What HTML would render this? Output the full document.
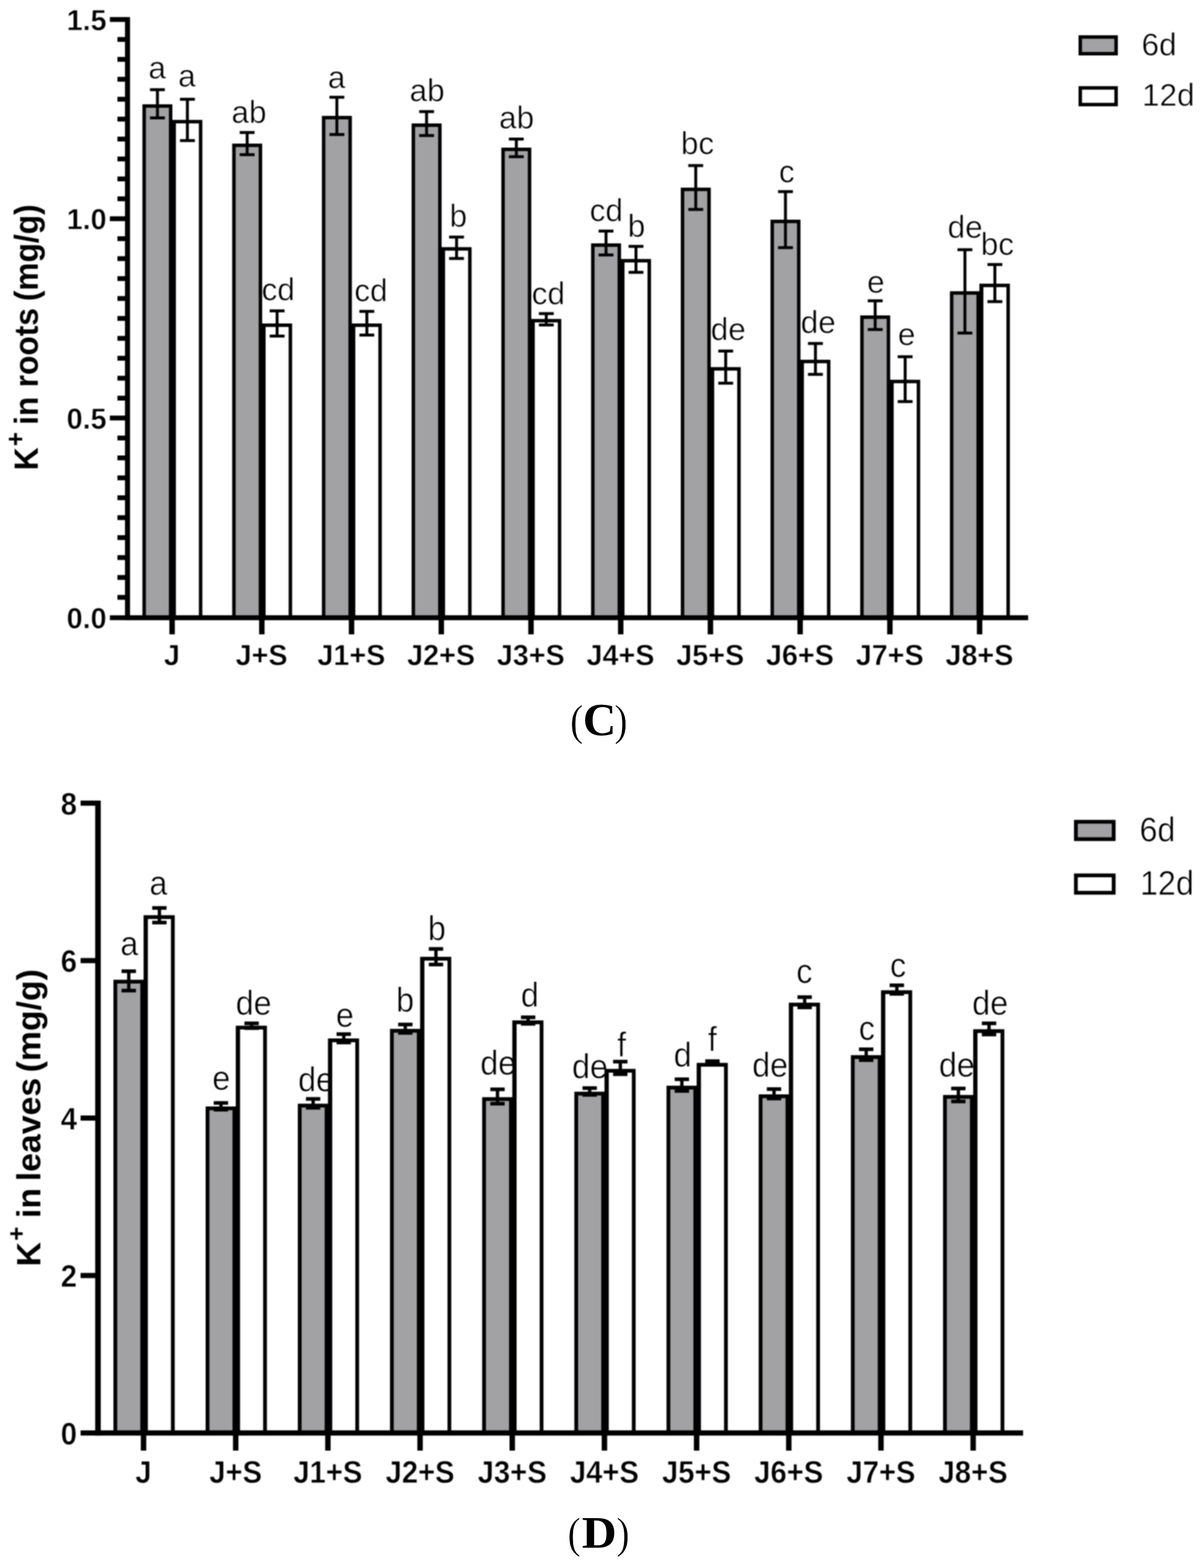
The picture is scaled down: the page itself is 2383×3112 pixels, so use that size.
<!DOCTYPE html>
<html lang="en"><head><meta charset="utf-8"><title>K+ content in roots and leaves</title>
<style>
html,body{margin:0;padding:0;background:#fff;}
body{width:2383px;height:3112px;overflow:hidden;}
svg{display:block;font-family:"Liberation Sans",sans-serif;fill:#000;}
text{stroke:#fff;stroke-width:0.9px;stroke-linejoin:round;}
text.b{stroke-width:0.8px;}
text.t{stroke:none;}
text.p{stroke-width:0.8px;}
</style></head><body>
<svg width="2383" height="3112" viewBox="0 0 2383 3112">
<defs><filter id="soft" filterUnits="userSpaceOnUse" x="0" y="0" width="2383" height="3112" color-interpolation-filters="sRGB"><feGaussianBlur stdDeviation="1.0"/></filter></defs>
<rect width="2383" height="3112" fill="#fff"/>
<g filter="url(#soft)">
<rect width="2383" height="3112" fill="#fff"/>
<g id="chartC">
<g class="cat">
<rect x="282.6" y="207" width="59.4" height="1019" fill="#000"/><rect x="289.5" y="213.9" width="45.6" height="1012.1" fill="#a2a2a5"/>
<rect x="309.5" y="178" width="5.8" height="56" fill="#000"/><rect x="297.6" y="175.1" width="29.5" height="5.8" fill="#000"/><rect x="297.6" y="231.1" width="29.5" height="5.8" fill="#000"/>
<rect x="341.1" y="238" width="60.4" height="988" fill="#000"/><rect x="349" y="244.9" width="45.6" height="981.1" fill="#fff"/>
<rect x="368.9" y="197" width="5.8" height="82" fill="#000"/><rect x="357.1" y="194.1" width="29.5" height="5.8" fill="#000"/><rect x="357.1" y="276.1" width="29.5" height="5.8" fill="#000"/>
<text x="312" y="156.2" font-size="62.5" text-anchor="middle">a</text>
<text x="371" y="172.2" font-size="62.5" text-anchor="middle">a</text>
</g>
<g class="cat">
<rect x="460.7" y="285" width="59.5" height="941" fill="#000"/><rect x="467.6" y="291.9" width="45.7" height="934.1" fill="#a2a2a5"/>
<rect x="487.5" y="263" width="5.8" height="44" fill="#000"/><rect x="475.6" y="260.1" width="29.5" height="5.8" fill="#000"/><rect x="475.6" y="304.1" width="29.5" height="5.8" fill="#000"/>
<rect x="519.1" y="642" width="60.5" height="584" fill="#000"/><rect x="527" y="648.9" width="45.7" height="577.1" fill="#fff"/>
<rect x="546.9" y="617" width="5.8" height="50" fill="#000"/><rect x="535.1" y="614.1" width="29.5" height="5.8" fill="#000"/><rect x="535.1" y="664.1" width="29.5" height="5.8" fill="#000"/>
<text x="494" y="244.2" font-size="62.5" text-anchor="middle">ab</text>
<text x="552" y="596.2" font-size="62.5" text-anchor="middle">cd</text>
</g>
<g class="cat">
<rect x="638.7" y="230" width="59.5" height="996" fill="#000"/><rect x="645.6" y="236.9" width="45.7" height="989.1" fill="#a2a2a5"/>
<rect x="665.5" y="193" width="5.8" height="74" fill="#000"/><rect x="653.7" y="190.1" width="29.5" height="5.8" fill="#000"/><rect x="653.7" y="264.1" width="29.5" height="5.8" fill="#000"/>
<rect x="697.1" y="642" width="60.5" height="584" fill="#000"/><rect x="705" y="648.9" width="45.7" height="577.1" fill="#fff"/>
<rect x="725" y="618" width="5.8" height="47" fill="#000"/><rect x="713.1" y="615.1" width="29.5" height="5.8" fill="#000"/><rect x="713.1" y="662.1" width="29.5" height="5.8" fill="#000"/>
<text x="668" y="175.2" font-size="62.5" text-anchor="middle">a</text>
<text x="736" y="598.2" font-size="62.5" text-anchor="middle">cd</text>
</g>
<g class="cat">
<rect x="816.7" y="245" width="59.5" height="981" fill="#000"/><rect x="823.6" y="251.9" width="45.7" height="974.1" fill="#a2a2a5"/>
<rect x="843.5" y="221.5" width="5.8" height="47.5" fill="#000"/><rect x="831.7" y="218.6" width="29.5" height="5.8" fill="#000"/><rect x="831.7" y="266.1" width="29.5" height="5.8" fill="#000"/>
<rect x="875.2" y="490.5" width="60.5" height="735.5" fill="#000"/><rect x="883.1" y="497.4" width="45.7" height="728.6" fill="#fff"/>
<rect x="903" y="470.5" width="5.8" height="42.5" fill="#000"/><rect x="891.1" y="467.6" width="29.5" height="5.8" fill="#000"/><rect x="891.1" y="510.1" width="29.5" height="5.8" fill="#000"/>
<text x="847.6" y="201.2" font-size="62.5" text-anchor="middle">ab</text>
<text x="909.5" y="449.8" font-size="62.5" text-anchor="middle">b</text>
</g>
<g class="cat">
<rect x="994.7" y="293" width="59.5" height="933" fill="#000"/><rect x="1001.6" y="299.9" width="45.7" height="926.1" fill="#a2a2a5"/>
<rect x="1021.6" y="276" width="5.8" height="35" fill="#000"/><rect x="1009.7" y="273.1" width="29.5" height="5.8" fill="#000"/><rect x="1009.7" y="308.1" width="29.5" height="5.8" fill="#000"/>
<rect x="1053.2" y="633" width="60.5" height="593" fill="#000"/><rect x="1061.1" y="639.9" width="45.7" height="586.1" fill="#fff"/>
<rect x="1081" y="622.4" width="5.8" height="22.6" fill="#000"/><rect x="1069.2" y="619.5" width="29.5" height="5.8" fill="#000"/><rect x="1069.2" y="642.1" width="29.5" height="5.8" fill="#000"/>
<text x="1025" y="255.2" font-size="62.5" text-anchor="middle">ab</text>
<text x="1088" y="603.6" font-size="62.5" text-anchor="middle">cd</text>
</g>
<g class="cat">
<rect x="1172.8" y="483" width="59.5" height="743" fill="#000"/><rect x="1179.7" y="489.9" width="45.7" height="736.1" fill="#a2a2a5"/>
<rect x="1199.6" y="458.6" width="5.8" height="47.4" fill="#000"/><rect x="1187.7" y="455.7" width="29.5" height="5.8" fill="#000"/><rect x="1187.7" y="503.1" width="29.5" height="5.8" fill="#000"/>
<rect x="1231.2" y="514" width="60.5" height="712" fill="#000"/><rect x="1239.1" y="520.9" width="45.7" height="705.1" fill="#fff"/>
<rect x="1259" y="489" width="5.8" height="51.5" fill="#000"/><rect x="1247.2" y="486.1" width="29.5" height="5.8" fill="#000"/><rect x="1247.2" y="537.6" width="29.5" height="5.8" fill="#000"/>
<text x="1203" y="439.2" font-size="62.5" text-anchor="middle">cd</text>
<text x="1263" y="470.2" font-size="62.5" text-anchor="middle">b</text>
</g>
<g class="cat">
<rect x="1350.8" y="372.4" width="59.5" height="853.6" fill="#000"/><rect x="1357.7" y="379.3" width="45.7" height="846.7" fill="#a2a2a5"/>
<rect x="1377.6" y="328.6" width="5.8" height="87.1" fill="#000"/><rect x="1365.7" y="325.7" width="29.5" height="5.8" fill="#000"/><rect x="1365.7" y="412.8" width="29.5" height="5.8" fill="#000"/>
<rect x="1409.2" y="728.6" width="60.5" height="497.4" fill="#000"/><rect x="1417.1" y="735.5" width="45.7" height="490.5" fill="#fff"/>
<rect x="1437" y="696.7" width="5.8" height="63.8" fill="#000"/><rect x="1425.2" y="693.8" width="29.5" height="5.8" fill="#000"/><rect x="1425.2" y="757.6" width="29.5" height="5.8" fill="#000"/>
<text x="1384" y="306.2" font-size="62.5" text-anchor="middle">bc</text>
<text x="1445" y="675.2" font-size="62.5" text-anchor="middle">de</text>
</g>
<g class="cat">
<rect x="1528.8" y="436" width="59.5" height="790" fill="#000"/><rect x="1535.7" y="442.9" width="45.7" height="783.1" fill="#a2a2a5"/>
<rect x="1555.6" y="380.3" width="5.8" height="111.2" fill="#000"/><rect x="1543.8" y="377.4" width="29.5" height="5.8" fill="#000"/><rect x="1543.8" y="488.6" width="29.5" height="5.8" fill="#000"/>
<rect x="1587.2" y="714" width="60.5" height="512" fill="#000"/><rect x="1595.1" y="720.9" width="45.7" height="505.1" fill="#fff"/>
<rect x="1615.1" y="681.7" width="5.8" height="61.3" fill="#000"/><rect x="1603.2" y="678.8" width="29.5" height="5.8" fill="#000"/><rect x="1603.2" y="740.1" width="29.5" height="5.8" fill="#000"/>
<text x="1561" y="362.2" font-size="62.5" text-anchor="middle">c</text>
<text x="1623.5" y="661.2" font-size="62.5" text-anchor="middle">de</text>
</g>
<g class="cat">
<rect x="1706.8" y="626" width="59.5" height="600" fill="#000"/><rect x="1713.7" y="632.9" width="45.7" height="593.1" fill="#a2a2a5"/>
<rect x="1733.6" y="597" width="5.8" height="57" fill="#000"/><rect x="1721.8" y="594.1" width="29.5" height="5.8" fill="#000"/><rect x="1721.8" y="651.1" width="29.5" height="5.8" fill="#000"/>
<rect x="1765.3" y="753.7" width="60.5" height="472.3" fill="#000"/><rect x="1773.2" y="760.6" width="45.7" height="465.4" fill="#fff"/>
<rect x="1793.1" y="708" width="5.8" height="89" fill="#000"/><rect x="1781.2" y="705.1" width="29.5" height="5.8" fill="#000"/><rect x="1781.2" y="794.1" width="29.5" height="5.8" fill="#000"/>
<text x="1738" y="580.5" font-size="62.5" text-anchor="middle">e</text>
<text x="1799" y="684.6" font-size="62.5" text-anchor="middle">e</text>
</g>
<g class="cat">
<rect x="1884.8" y="578" width="59.5" height="648" fill="#000"/><rect x="1891.7" y="584.9" width="45.7" height="641.1" fill="#a2a2a5"/>
<rect x="1911.7" y="495.6" width="5.8" height="165.4" fill="#000"/><rect x="1899.8" y="492.7" width="29.5" height="5.8" fill="#000"/><rect x="1899.8" y="658.1" width="29.5" height="5.8" fill="#000"/>
<rect x="1943.3" y="563" width="60.5" height="663" fill="#000"/><rect x="1951.2" y="569.9" width="45.7" height="656.1" fill="#fff"/>
<rect x="1971.1" y="525" width="5.8" height="73.6" fill="#000"/><rect x="1959.3" y="522.1" width="29.5" height="5.8" fill="#000"/><rect x="1959.3" y="595.7" width="29.5" height="5.8" fill="#000"/>
<text x="1915" y="472.2" font-size="62.5" text-anchor="middle">de</text>
<text x="1979" y="505.6" font-size="62.5" text-anchor="middle">bc</text>
</g>
<rect x="248" y="33.9" width="10" height="1197" fill="#000"/>
<rect x="248" y="1221.1" width="1792" height="9.8" fill="#000"/>
<rect x="218" y="33.9" width="31" height="9.6" fill="#000"/>
<text transform="translate(211.5,60) scale(1,1.02)" font-size="57" text-anchor="end" class="b" font-weight="bold">1.5</text>
<rect x="218" y="429.3" width="31" height="9.6" fill="#000"/>
<text transform="translate(211.5,455.4) scale(1,1.02)" font-size="57" text-anchor="end" class="b" font-weight="bold">1.0</text>
<rect x="218" y="824.8" width="31" height="9.6" fill="#000"/>
<text transform="translate(211.5,850.9) scale(1,1.02)" font-size="57" text-anchor="end" class="b" font-weight="bold">0.5</text>
<rect x="218" y="1221.2" width="31" height="9.6" fill="#000"/>
<text transform="translate(211.5,1247.3) scale(1,1.02)" font-size="57" text-anchor="end" class="b" font-weight="bold">0.0</text>
<rect x="233" y="73.5" width="16" height="9.6" fill="#000"/>
<rect x="233" y="113" width="16" height="9.6" fill="#000"/>
<rect x="233" y="152.5" width="16" height="9.6" fill="#000"/>
<rect x="233" y="192.1" width="16" height="9.6" fill="#000"/>
<rect x="233" y="231.6" width="16" height="9.6" fill="#000"/>
<rect x="233" y="271.2" width="16" height="9.6" fill="#000"/>
<rect x="233" y="310.7" width="16" height="9.6" fill="#000"/>
<rect x="233" y="350.3" width="16" height="9.6" fill="#000"/>
<rect x="233" y="389.8" width="16" height="9.6" fill="#000"/>
<rect x="233" y="468.9" width="16" height="9.6" fill="#000"/>
<rect x="233" y="508.5" width="16" height="9.6" fill="#000"/>
<rect x="233" y="548.1" width="16" height="9.6" fill="#000"/>
<rect x="233" y="587.6" width="16" height="9.6" fill="#000"/>
<rect x="233" y="627.2" width="16" height="9.6" fill="#000"/>
<rect x="233" y="666.7" width="16" height="9.6" fill="#000"/>
<rect x="233" y="706.2" width="16" height="9.6" fill="#000"/>
<rect x="233" y="745.8" width="16" height="9.6" fill="#000"/>
<rect x="233" y="785.4" width="16" height="9.6" fill="#000"/>
<rect x="233" y="864.5" width="16" height="9.6" fill="#000"/>
<rect x="233" y="904" width="16" height="9.6" fill="#000"/>
<rect x="233" y="943.6" width="16" height="9.6" fill="#000"/>
<rect x="233" y="983.1" width="16" height="9.6" fill="#000"/>
<rect x="233" y="1022.6" width="16" height="9.6" fill="#000"/>
<rect x="233" y="1062.2" width="16" height="9.6" fill="#000"/>
<rect x="233" y="1101.8" width="16" height="9.6" fill="#000"/>
<rect x="233" y="1141.3" width="16" height="9.6" fill="#000"/>
<rect x="233" y="1180.8" width="16" height="9.6" fill="#000"/>
<rect x="336.1" y="1226" width="10.8" height="33" fill="#000"/>
<text transform="translate(341.1,1320) scale(1,1.02)" font-size="57" text-anchor="middle" class="b" font-weight="bold">J</text>
<rect x="514.1" y="1226" width="10.8" height="33" fill="#000"/>
<text transform="translate(519.1,1320) scale(1,1.02)" font-size="57" text-anchor="middle" class="b" font-weight="bold">J+S</text>
<rect x="692.1" y="1226" width="10.8" height="33" fill="#000"/>
<text transform="translate(697.1,1320) scale(1,1.02)" font-size="57" text-anchor="middle" class="b" font-weight="bold">J1+S</text>
<rect x="870.2" y="1226" width="10.8" height="33" fill="#000"/>
<text transform="translate(875.2,1320) scale(1,1.02)" font-size="57" text-anchor="middle" class="b" font-weight="bold">J2+S</text>
<rect x="1048.2" y="1226" width="10.8" height="33" fill="#000"/>
<text transform="translate(1053.2,1320) scale(1,1.02)" font-size="57" text-anchor="middle" class="b" font-weight="bold">J3+S</text>
<rect x="1226.2" y="1226" width="10.8" height="33" fill="#000"/>
<text transform="translate(1231.2,1320) scale(1,1.02)" font-size="57" text-anchor="middle" class="b" font-weight="bold">J4+S</text>
<rect x="1404.2" y="1226" width="10.8" height="33" fill="#000"/>
<text transform="translate(1409.2,1320) scale(1,1.02)" font-size="57" text-anchor="middle" class="b" font-weight="bold">J5+S</text>
<rect x="1582.2" y="1226" width="10.8" height="33" fill="#000"/>
<text transform="translate(1587.2,1320) scale(1,1.02)" font-size="57" text-anchor="middle" class="b" font-weight="bold">J6+S</text>
<rect x="1760.3" y="1226" width="10.8" height="33" fill="#000"/>
<text transform="translate(1765.3,1320) scale(1,1.02)" font-size="57" text-anchor="middle" class="b" font-weight="bold">J7+S</text>
<rect x="1938.3" y="1226" width="10.8" height="33" fill="#000"/>
<text transform="translate(1943.3,1320) scale(1,1.02)" font-size="57" text-anchor="middle" class="b" font-weight="bold">J8+S</text>
<text transform="translate(74.7,669.4) rotate(-90) scale(1,1.066)" font-size="63" class="t" font-weight="bold" text-anchor="middle">K<tspan font-size="48" dy="-25.2" dx="2.5">+</tspan><tspan dy="25.2" dx="-3.5"> in</tspan><tspan dx="1"> roots</tspan><tspan dx="-4"> (mg/g)</tspan></text>
<rect x="2140" y="70" width="78" height="40" fill="#000"/><rect x="2146.9" y="76.9" width="64.2" height="26.2" fill="#a2a2a5"/>
<text x="2265" y="109.5" font-size="62.5">6d</text>
<rect x="2140" y="171" width="78" height="40" fill="#000"/><rect x="2146.9" y="177.9" width="64.2" height="26.2" fill="#fff"/>
<text x="2266" y="210" font-size="62.5">12d</text>
</g>
<g id="chartD">
<g class="cat">
<rect x="225.1" y="1944.5" width="60.8" height="899.5" fill="#000"/><rect x="232.6" y="1952" width="45.8" height="892" fill="#a2a2a5"/>
<rect x="252.2" y="1927.6" width="6.6" height="38.4" fill="#000"/><rect x="241.2" y="1924" width="28.5" height="7.2" fill="#000"/><rect x="241.2" y="1962.4" width="28.5" height="7.2" fill="#000"/>
<text transform="translate(256.5,1895.8) scale(1,1.06)" font-size="64" text-anchor="middle">a</text>
<rect x="284.9" y="1816.4" width="61.8" height="1027.6" fill="#000"/><rect x="293.4" y="1823.9" width="45.8" height="1020.1" fill="#fff"/>
<rect x="313" y="1802" width="6.6" height="29" fill="#000"/><rect x="302" y="1798.4" width="28.5" height="7.2" fill="#000"/><rect x="302" y="1827.4" width="28.5" height="7.2" fill="#000"/>
<text transform="translate(314.3,1775.8) scale(1,1.06)" font-size="64" text-anchor="middle">a</text>
</g>
<g class="cat">
<rect x="408" y="2196" width="60.8" height="648" fill="#000"/><rect x="415.5" y="2203.5" width="45.8" height="640.5" fill="#a2a2a5"/>
<rect x="435.1" y="2189" width="6.6" height="13.4" fill="#000"/><rect x="424.1" y="2185.4" width="28.5" height="7.2" fill="#000"/><rect x="424.1" y="2198.8" width="28.5" height="7.2" fill="#000"/>
<text transform="translate(439,2162.8) scale(1,1.06)" font-size="64" text-anchor="middle">e</text>
<rect x="467.8" y="2035.7" width="61.8" height="808.3" fill="#000"/><rect x="476.3" y="2043.2" width="45.8" height="800.8" fill="#fff"/>
<rect x="495.9" y="2031" width="6.6" height="9.5" fill="#000"/><rect x="485" y="2027.4" width="28.5" height="7.2" fill="#000"/><rect x="485" y="2036.9" width="28.5" height="7.2" fill="#000"/>
<text transform="translate(503.3,2013.8) scale(1,1.06)" font-size="64" text-anchor="middle">de</text>
</g>
<g class="cat">
<rect x="590.9" y="2190.5" width="60.8" height="653.5" fill="#000"/><rect x="598.4" y="2198" width="45.8" height="646" fill="#a2a2a5"/>
<rect x="618" y="2181" width="6.6" height="17.6" fill="#000"/><rect x="607" y="2177.4" width="28.5" height="7.2" fill="#000"/><rect x="607" y="2195" width="28.5" height="7.2" fill="#000"/>
<text transform="translate(627,2166.1) scale(1,1.06)" font-size="64" text-anchor="middle">de</text>
<rect x="650.7" y="2061" width="61.8" height="783" fill="#000"/><rect x="659.2" y="2068.5" width="45.8" height="775.5" fill="#fff"/>
<rect x="678.8" y="2052.4" width="6.6" height="16.6" fill="#000"/><rect x="667.8" y="2048.8" width="28.5" height="7.2" fill="#000"/><rect x="667.8" y="2065.4" width="28.5" height="7.2" fill="#000"/>
<text transform="translate(684.3,2037.5) scale(1,1.06)" font-size="64" text-anchor="middle">e</text>
</g>
<g class="cat">
<rect x="773.8" y="2042" width="60.8" height="802" fill="#000"/><rect x="781.3" y="2049.5" width="45.8" height="794.5" fill="#a2a2a5"/>
<rect x="800.9" y="2033.3" width="6.6" height="16.7" fill="#000"/><rect x="790" y="2029.7" width="28.5" height="7.2" fill="#000"/><rect x="790" y="2046.4" width="28.5" height="7.2" fill="#000"/>
<text transform="translate(803.8,2007.8) scale(1,1.06)" font-size="64" text-anchor="middle">b</text>
<rect x="833.6" y="1899" width="61.8" height="945" fill="#000"/><rect x="842.1" y="1906.5" width="45.8" height="937.5" fill="#fff"/>
<rect x="861.7" y="1883.3" width="6.6" height="31" fill="#000"/><rect x="850.8" y="1879.7" width="28.5" height="7.2" fill="#000"/><rect x="850.8" y="1910.7" width="28.5" height="7.2" fill="#000"/>
<text transform="translate(866.7,1866.1) scale(1,1.06)" font-size="64" text-anchor="middle">b</text>
</g>
<g class="cat">
<rect x="956.7" y="2177.6" width="60.8" height="666.4" fill="#000"/><rect x="964.2" y="2185.1" width="45.8" height="658.9" fill="#a2a2a5"/>
<rect x="983.8" y="2162" width="6.6" height="28.5" fill="#000"/><rect x="972.9" y="2158.4" width="28.5" height="7.2" fill="#000"/><rect x="972.9" y="2186.9" width="28.5" height="7.2" fill="#000"/>
<text transform="translate(988.5,2132.8) scale(1,1.06)" font-size="64" text-anchor="middle">de</text>
<rect x="1016.5" y="2025.2" width="61.8" height="818.8" fill="#000"/><rect x="1025" y="2032.7" width="45.8" height="811.3" fill="#fff"/>
<rect x="1044.6" y="2019" width="6.6" height="13" fill="#000"/><rect x="1033.7" y="2015.4" width="28.5" height="7.2" fill="#000"/><rect x="1033.7" y="2028.4" width="28.5" height="7.2" fill="#000"/>
<text transform="translate(1051.4,1997.8) scale(1,1.06)" font-size="64" text-anchor="middle">d</text>
</g>
<g class="cat">
<rect x="1139.6" y="2166.7" width="60.8" height="677.3" fill="#000"/><rect x="1147.1" y="2174.2" width="45.8" height="669.8" fill="#a2a2a5"/>
<rect x="1166.7" y="2159.5" width="6.6" height="13.5" fill="#000"/><rect x="1155.8" y="2155.9" width="28.5" height="7.2" fill="#000"/><rect x="1155.8" y="2169.4" width="28.5" height="7.2" fill="#000"/>
<text transform="translate(1170.5,2139.8) scale(1,1.06)" font-size="64" text-anchor="middle">de</text>
<rect x="1199.4" y="2121.4" width="61.8" height="722.6" fill="#000"/><rect x="1207.9" y="2128.9" width="45.8" height="715.1" fill="#fff"/>
<rect x="1227.5" y="2107" width="6.6" height="25" fill="#000"/><rect x="1216.5" y="2103.4" width="28.5" height="7.2" fill="#000"/><rect x="1216.5" y="2128.4" width="28.5" height="7.2" fill="#000"/>
<text transform="translate(1233.3,2097) scale(1,1.06)" font-size="64" text-anchor="middle">f</text>
</g>
<g class="cat">
<rect x="1322.5" y="2154.8" width="60.8" height="689.2" fill="#000"/><rect x="1330" y="2162.3" width="45.8" height="681.7" fill="#a2a2a5"/>
<rect x="1349.6" y="2142" width="6.6" height="23.2" fill="#000"/><rect x="1338.7" y="2138.4" width="28.5" height="7.2" fill="#000"/><rect x="1338.7" y="2161.6" width="28.5" height="7.2" fill="#000"/>
<text transform="translate(1354.5,2117.3) scale(1,1.06)" font-size="64" text-anchor="middle">d</text>
<rect x="1382.3" y="2109.5" width="61.8" height="734.5" fill="#000"/><rect x="1390.8" y="2117" width="45.8" height="727" fill="#fff"/>
<rect x="1410.4" y="2106" width="6.6" height="6" fill="#000"/><rect x="1399.4" y="2102.4" width="28.5" height="7.2" fill="#000"/><rect x="1399.4" y="2108.4" width="28.5" height="7.2" fill="#000"/>
<text transform="translate(1413.5,2086.3) scale(1,1.06)" font-size="64" text-anchor="middle">f</text>
</g>
<g class="cat">
<rect x="1505.4" y="2172" width="60.8" height="672" fill="#000"/><rect x="1512.9" y="2179.5" width="45.8" height="664.5" fill="#a2a2a5"/>
<rect x="1532.5" y="2161.5" width="6.6" height="18.7" fill="#000"/><rect x="1521.5" y="2157.9" width="28.5" height="7.2" fill="#000"/><rect x="1521.5" y="2176.6" width="28.5" height="7.2" fill="#000"/>
<text transform="translate(1528,2136.8) scale(1,1.06)" font-size="64" text-anchor="middle">de</text>
<rect x="1565.2" y="1990" width="61.8" height="854" fill="#000"/><rect x="1573.7" y="1997.5" width="45.8" height="846.5" fill="#fff"/>
<rect x="1593.3" y="1979" width="6.6" height="20.4" fill="#000"/><rect x="1582.3" y="1975.4" width="28.5" height="7.2" fill="#000"/><rect x="1582.3" y="1995.8" width="28.5" height="7.2" fill="#000"/>
<text transform="translate(1596,1950.8) scale(1,1.06)" font-size="64" text-anchor="middle">c</text>
</g>
<g class="cat">
<rect x="1688.3" y="2094.2" width="60.8" height="749.8" fill="#000"/><rect x="1695.8" y="2101.7" width="45.8" height="742.3" fill="#a2a2a5"/>
<rect x="1715.4" y="2082.5" width="6.6" height="21.5" fill="#000"/><rect x="1704.4" y="2078.9" width="28.5" height="7.2" fill="#000"/><rect x="1704.4" y="2100.4" width="28.5" height="7.2" fill="#000"/>
<text transform="translate(1720,2063.8) scale(1,1.06)" font-size="64" text-anchor="middle">c</text>
<rect x="1748.1" y="1965.4" width="61.8" height="878.6" fill="#000"/><rect x="1756.6" y="1972.9" width="45.8" height="871.1" fill="#fff"/>
<rect x="1776.2" y="1955.5" width="6.6" height="17" fill="#000"/><rect x="1765.2" y="1951.9" width="28.5" height="7.2" fill="#000"/><rect x="1765.2" y="1968.9" width="28.5" height="7.2" fill="#000"/>
<text transform="translate(1782,1939.2) scale(1,1.06)" font-size="64" text-anchor="middle">c</text>
</g>
<g class="cat">
<rect x="1871.2" y="2173.2" width="60.8" height="670.8" fill="#000"/><rect x="1878.7" y="2180.7" width="45.8" height="663.3" fill="#a2a2a5"/>
<rect x="1898.3" y="2160.3" width="6.6" height="25.7" fill="#000"/><rect x="1887.3" y="2156.7" width="28.5" height="7.2" fill="#000"/><rect x="1887.3" y="2182.4" width="28.5" height="7.2" fill="#000"/>
<text transform="translate(1898.5,2136.8) scale(1,1.06)" font-size="64" text-anchor="middle">de</text>
<rect x="1931" y="2042.7" width="61.8" height="801.3" fill="#000"/><rect x="1939.5" y="2050.2" width="45.8" height="793.8" fill="#fff"/>
<rect x="1959.1" y="2031" width="6.6" height="22.2" fill="#000"/><rect x="1948.2" y="2027.4" width="28.5" height="7.2" fill="#000"/><rect x="1948.2" y="2049.6" width="28.5" height="7.2" fill="#000"/>
<text transform="translate(1964.7,2014.1) scale(1,1.06)" font-size="64" text-anchor="middle">de</text>
</g>
<rect x="188.9" y="1588.9" width="11" height="1260.3" fill="#000"/>
<rect x="188.9" y="2838.8" width="1841.1" height="10.4" fill="#000"/>
<rect x="159.9" y="1588.9" width="30" height="10.2" fill="#000"/>
<text transform="translate(152.7,1616.5) scale(1,1.09)" font-size="58" text-anchor="end" class="b" font-weight="bold">8</text>
<rect x="159.9" y="1901.4" width="30" height="10.2" fill="#000"/>
<text transform="translate(152.7,1929) scale(1,1.09)" font-size="58" text-anchor="end" class="b" font-weight="bold">6</text>
<rect x="159.9" y="2213.9" width="30" height="10.2" fill="#000"/>
<text transform="translate(152.7,2241.5) scale(1,1.09)" font-size="58" text-anchor="end" class="b" font-weight="bold">4</text>
<rect x="159.9" y="2526.4" width="30" height="10.2" fill="#000"/>
<text transform="translate(152.7,2554) scale(1,1.09)" font-size="58" text-anchor="end" class="b" font-weight="bold">2</text>
<rect x="159.9" y="2838.9" width="30" height="10.2" fill="#000"/>
<text transform="translate(152.7,2866.5) scale(1,1.09)" font-size="58" text-anchor="end" class="b" font-weight="bold">0</text>
<rect x="279.4" y="2844" width="10.8" height="35" fill="#000"/>
<text transform="translate(284.7,2943) scale(1,1.09)" font-size="58" text-anchor="middle" class="b" font-weight="bold">J</text>
<rect x="462.3" y="2844" width="10.8" height="35" fill="#000"/>
<text transform="translate(467.6,2943) scale(1,1.09)" font-size="58" text-anchor="middle" class="b" font-weight="bold">J+S</text>
<rect x="645.2" y="2844" width="10.8" height="35" fill="#000"/>
<text transform="translate(650.5,2943) scale(1,1.09)" font-size="58" text-anchor="middle" class="b" font-weight="bold">J1+S</text>
<rect x="828.1" y="2844" width="10.8" height="35" fill="#000"/>
<text transform="translate(833.4,2943) scale(1,1.09)" font-size="58" text-anchor="middle" class="b" font-weight="bold">J2+S</text>
<rect x="1011" y="2844" width="10.8" height="35" fill="#000"/>
<text transform="translate(1016.3,2943) scale(1,1.09)" font-size="58" text-anchor="middle" class="b" font-weight="bold">J3+S</text>
<rect x="1193.9" y="2844" width="10.8" height="35" fill="#000"/>
<text transform="translate(1199.2,2943) scale(1,1.09)" font-size="58" text-anchor="middle" class="b" font-weight="bold">J4+S</text>
<rect x="1376.8" y="2844" width="10.8" height="35" fill="#000"/>
<text transform="translate(1382.1,2943) scale(1,1.09)" font-size="58" text-anchor="middle" class="b" font-weight="bold">J5+S</text>
<rect x="1559.7" y="2844" width="10.8" height="35" fill="#000"/>
<text transform="translate(1565,2943) scale(1,1.09)" font-size="58" text-anchor="middle" class="b" font-weight="bold">J6+S</text>
<rect x="1742.6" y="2844" width="10.8" height="35" fill="#000"/>
<text transform="translate(1747.9,2943) scale(1,1.09)" font-size="58" text-anchor="middle" class="b" font-weight="bold">J7+S</text>
<rect x="1925.5" y="2844" width="10.8" height="35" fill="#000"/>
<text transform="translate(1930.8,2943) scale(1,1.09)" font-size="58" text-anchor="middle" class="b" font-weight="bold">J8+S</text>
<text transform="translate(80,2218.5) rotate(-90) scale(1,1)" font-size="67" class="t" font-weight="bold" text-anchor="middle" word-spacing="-3">K<tspan font-size="48" dy="-31.1" dx="2.5">+</tspan><tspan dy="31.1" dx="1.5"> in</tspan><tspan dx="-2"> leaves</tspan><tspan dx="-4.5"> (mg/g)</tspan></text>
<rect x="2131" y="1627.2" width="82.5" height="42" fill="#000"/><rect x="2138.5" y="1634.7" width="67.5" height="27" fill="#a2a2a5"/>
<text transform="translate(2261,1669.5) scale(1,1.06)" font-size="64">6d</text>
<rect x="2131" y="1733.6" width="82.5" height="42" fill="#000"/><rect x="2138.5" y="1741.1" width="67.5" height="27" fill="#fff"/>
<text transform="translate(2262,1776) scale(1,1.06)" font-size="64">12d</text>
</g>
</g>
<g id="captionC" font-family="'Liberation Serif', serif"><text class="p" transform="translate(1131.3,1459.3) scale(0.9,1)" font-size="87">(</text><text class="t" transform="translate(1189.6,1458.6) scale(1.0,1)" font-size="91.5" font-weight="bold" text-anchor="middle">C</text><text class="p" transform="translate(1245,1459.3) scale(0.9,1)" font-size="87" text-anchor="end">)</text></g>
<g id="captionD" font-family="'Liberation Serif', serif"><text class="p" transform="translate(1126.2,3072.3) scale(0.9,1)" font-size="87">(</text><text class="t" transform="translate(1189,3070.6) scale(1.08,1)" font-size="88.5" font-weight="bold" text-anchor="middle">D</text><text class="p" transform="translate(1249.2,3072.3) scale(0.9,1)" font-size="87" text-anchor="end">)</text></g>
</svg>
</body></html>
